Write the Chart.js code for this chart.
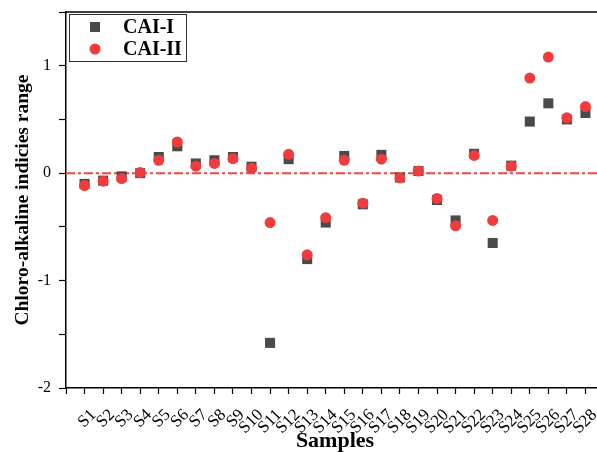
<html>
    <head>
        <title>Chloro-alkaline indices</title>
        <script src="https://cdn.jsdelivr.net/npm/chart.js/dist/chart.umd.min.js"></script>
        <style>
            html, body { margin: 0; background: #fff; overflow: hidden; }
            #wrap { width: 597px; height: 452px; overflow: hidden; }
        </style>
    </head>
    <body>
        <div id="wrap"><canvas id="myChart" width="604" height="452"></canvas></div>
        <script>
            var samples = ['S1', 'S2', 'S3', 'S4', 'S5', 'S6', 'S7', 'S8', 'S9', 'S10',
                'S11', 'S12', 'S13', 'S14', 'S15', 'S16', 'S17', 'S18', 'S19', 'S20',
                'S21', 'S22', 'S23', 'S24', 'S25', 'S26', 'S27', 'S28'];
            var cai1 = [-0.10, -0.07, -0.03, 0.00, 0.15, 0.25, 0.09, 0.12, 0.15, 0.06,
                -1.58, 0.13, -0.80, -0.46, 0.16, -0.29, 0.17, -0.04, 0.02, -0.25,
                -0.44, 0.18, -0.65, 0.07, 0.48, 0.65, 0.50, 0.56];
            var cai2 = [-0.115, -0.075, -0.05, 0.005, 0.12, 0.29, 0.065, 0.09, 0.135, 0.045,
                -0.46, 0.175, -0.76, -0.415, 0.12, -0.28, 0.13, -0.045, 0.02, -0.235,
                -0.49, 0.165, -0.44, 0.065, 0.885, 1.08, 0.515, 0.62];
            var yTickLabels = {'1': '1', '0': '0', '-1': '-1', '-2': '-2'};

            var serif = "'Liberation Serif', 'Times New Roman', serif";
            var grayCol = '#4a4a4a';
            var redCol = '#f03c3c';

            function toPoints(vals) {
                return vals.map((v, i) => ({x: i + 1, y: v}));
            }

            // top frame line + dash-dot zero line
            var framePlugin = {
                id: 'frame',
                beforeDatasetsDraw(chart) {
                    var ctx = chart.ctx, a = chart.chartArea;
                    var y0 = chart.scales.y.getPixelForValue(0);
                    ctx.save();
                    ctx.strokeStyle = '#f24545';
                    ctx.lineWidth = 2;
                    ctx.setLineDash([9, 3, 3, 3]);
                    ctx.beginPath();
                    ctx.moveTo(a.left, y0);
                    ctx.lineTo(a.right, y0);
                    ctx.stroke();
                    ctx.restore();
                },
                afterDraw(chart) {
                    var ctx = chart.ctx, a = chart.chartArea;
                    ctx.save();
                    ctx.strokeStyle = '#000';
                    ctx.lineWidth = 1.5;
                    ctx.beginPath();
                    ctx.moveTo(a.left, a.top);
                    ctx.lineTo(a.right, a.top);
                    ctx.stroke();
                    ctx.restore();
                }
            };

            // legend box inside the plot, top left
            var legendPlugin = {
                id: 'boxLegend',
                afterDraw(chart) {
                    var ctx = chart.ctx, a = chart.chartArea;
                    var x = a.left + 3, y = a.top + 2;
                    ctx.save();
                    ctx.strokeStyle = '#333';
                    ctx.lineWidth = 1;
                    ctx.strokeRect(x + 0.5, y + 0.5, 117, 47);
                    ctx.fillStyle = grayCol;
                    ctx.fillRect(x + 21, y + 8, 10, 10);
                    ctx.fillStyle = redCol;
                    ctx.beginPath();
                    ctx.arc(x + 26, y + 35, 5.5, 0, Math.PI * 2);
                    ctx.fill();
                    ctx.fillStyle = '#000';
                    ctx.font = 'bold 20px ' + serif;
                    ctx.textBaseline = 'middle';
                    ctx.fillText(chart.data.datasets[1].label, x + 54, y + 14);
                    ctx.fillText(chart.data.datasets[0].label, x + 54, y + 36);
                    ctx.restore();
                }
            };

            const ctx = document.getElementById('myChart').getContext('2d');
            const myChart = new Chart(ctx, {
                type: 'scatter',
                data: {
                    datasets: [
                        {
                            label: 'CAI-II',
                            data: toPoints(cai2),
                            pointStyle: 'circle',
                            pointRadius: 5.5,
                            pointHoverRadius: 5.5,
                            backgroundColor: redCol,
                            borderWidth: 0,
                            order: 1
                        },
                        {
                            label: 'CAI-I',
                            data: toPoints(cai1),
                            pointStyle: 'rect',
                            pointRadius: 7.1,
                            pointHoverRadius: 7.1,
                            backgroundColor: grayCol,
                            borderWidth: 0,
                            order: 2
                        }
                    ]
                },
                options: {
                    responsive: false,
                    animation: false,
                    layout: {autoPadding: false, padding: {top: 12, right: 0, left: 0, bottom: 0}},
                    plugins: {
                        legend: {display: false},
                        tooltip: {enabled: false}
                    },
                    scales: {
                        x: {
                            type: 'linear',
                            min: 0,
                            max: 29,
                            afterFit: s => { s.height = 64; s.paddingRight = 0; s.paddingLeft = 0; },
                            border: {display: true, color: '#000', width: 1.5},
                            grid: {drawOnChartArea: false, drawTicks: true, tickLength: 6, color: '#000', tickWidth: 1.2},
                            ticks: {
                                stepSize: 1,
                                includeBounds: false,
                                autoSkip: false,
                                maxRotation: 45,
                                minRotation: 45,
                                labelOffset: 9,
                                padding: 11,
                                color: '#000',
                                font: {family: serif, size: 17},
                                callback: v => (v >= 1 && v <= samples.length) ? samples[v - 1] : ''
                            },
                            title: {
                                display: true,
                                text: 'Samples',
                                color: '#000',
                                font: {family: serif, size: 22, weight: 'bold'},
                                padding: {top: 0, bottom: -3}
                            }
                        },
                        y: {
                            min: -2,
                            max: 1.5,
                            afterFit: s => { s.width = 66; s.paddingTop = 0; s.paddingBottom = 0; },
                            border: {display: true, color: '#000', width: 1.5},
                            grid: {drawOnChartArea: false, drawTicks: true, tickLength: 7, color: '#000', tickWidth: 1.2},
                            ticks: {
                                stepSize: 0.5,
                                includeBounds: false,
                                padding: 8,
                                color: '#000',
                                font: {family: serif, size: 16},
                                callback: v => yTickLabels[String(v)] || ''
                            },
                            title: {
                                display: true,
                                text: 'Chloro-alkaline indicies range',
                                color: '#000',
                                font: {family: serif, size: 19.5, weight: 'bold'},
                                padding: {top: 11, bottom: 4}
                            }
                        }
                    }
                },
                plugins: [framePlugin, legendPlugin]
            });
        </script>
    </body>
</html>
